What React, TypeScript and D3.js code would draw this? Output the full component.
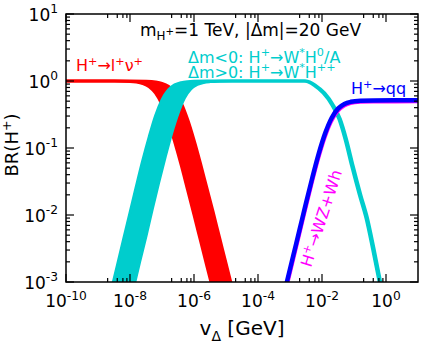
import React, { useEffect, useRef } from 'react';
import * as d3 from 'd3';

type Pt = [number, number]; // [v_Delta in GeV, BR]

// H+ -> l+ nu band, lower and upper edge
const lnuLow: Pt[] = [
  [1e-10, 1.0], [3.2e-9, 0.998], [1e-8, 0.985], [1.58e-8, 0.964], [2.5e-8, 0.917],
  [4.0e-8, 0.822], [6.3e-8, 0.658], [1e-7, 0.445], [1.58e-7, 0.251], [2.5e-7, 0.1225],
  [4.0e-7, 0.055], [6.3e-7, 0.0237], [1e-6, 0.01], [1.58e-6, 0.0042], [2.5e-6, 0.00176],
  [4.0e-6, 0.00073],
];
const lnuHigh: Pt[] = [
  [1e-10, 1.0], [1e-8, 1.0], [3.2e-8, 0.99], [6.3e-8, 0.967], [1e-7, 0.924],
  [1.58e-7, 0.835], [2.5e-7, 0.678], [4.0e-7, 0.467], [6.3e-7, 0.268], [1e-6, 0.132],
  [1.58e-6, 0.0598], [2.5e-6, 0.0258], [4.0e-6, 0.0109], [6.3e-6, 0.00458], [1e-5, 0.00192],
  [1.58e-5, 0.0008],
];

// H+ -> W* H0/A (dm<0) and W* H++ (dm>0) band
const wstarHigh: Pt[] = [
  [2.5e-9, 0.00069], [4.0e-9, 0.00174], [6.3e-9, 0.00435], [1e-8, 0.0108], [1.58e-8, 0.0268],
  [2.5e-8, 0.0647], [4.0e-8, 0.148], [6.3e-8, 0.304], [1e-7, 0.523], [1.58e-7, 0.734],
  [2.5e-7, 0.874], [4.0e-7, 0.946], [6.3e-7, 0.978], [1e-6, 0.991], [2.5e-6, 0.9985],
  [1e-5, 1.0], [3.16e-3, 1.0], [6.4e-3, 0.86], [1.22e-2, 0.66], [2.26e-2, 0.44],
  [3.76e-2, 0.27], [5.96e-2, 0.131], [9.44e-2, 0.054], [0.164, 0.02], [0.266, 0.0089],
  [0.422, 0.00318], [0.684, 0.001],
];
const wstarLow: Pt[] = [
  [1e-8, 0.0005], [1.26e-8, 0.00079], [2.0e-8, 0.00199], [3.2e-8, 0.00498], [5.0e-8, 0.0124],
  [7.9e-8, 0.0307], [1.26e-7, 0.0736], [2.0e-7, 0.166], [3.2e-7, 0.334], [5.0e-7, 0.557],
  [7.9e-7, 0.76], [1.26e-6, 0.888], [2.0e-6, 0.952], [3.2e-6, 0.98], [6.3e-6, 0.995],
  [1.58e-5, 0.9994], [2.75e-3, 1.0], [5.7e-3, 0.86], [1.08e-2, 0.66], [2.02e-2, 0.44],
  [3.35e-2, 0.27], [5.3e-2, 0.131], [8.4e-2, 0.054], [0.146, 0.02], [0.237, 0.0089],
  [0.376, 0.00318], [0.61, 0.001],
];

// H+ -> qq and H+ -> WZ + Wh
const qq: Pt[] = [
  [7.9e-4, 0.00098], [1.26e-3, 0.00246], [2.0e-3, 0.0061], [3.16e-3, 0.0151], [5.0e-3, 0.0363],
  [7.9e-3, 0.0824], [1.26e-2, 0.1667], [2.0e-2, 0.281], [3.16e-2, 0.387], [5.0e-2, 0.455],
  [7.9e-2, 0.489], [0.158, 0.508], [0.4, 0.513], [10, 0.515],
];
const wzwh: Pt[] = [
  [7.9e-4, 0.00076], [1.26e-3, 0.0019], [2.0e-3, 0.00475], [3.16e-3, 0.01175], [5.0e-3, 0.0285],
  [7.9e-3, 0.0655], [1.26e-2, 0.1367], [2.0e-2, 0.24], [3.16e-2, 0.343], [5.0e-2, 0.414],
  [7.9e-2, 0.4515], [0.158, 0.4725], [0.4, 0.479], [10, 0.48],
];

// ticks
const xMajorExp = [-10, -8, -6, -4, -2, 0];
const xMinorExp = [-9, -7, -5, -3, -1];
const xMinorMult = [2, 4, 6, 8];
const yMajorExp = [1, 0, -1, -2, -3];
const yMinorMult = [2, 3, 4, 5, 6, 7, 8, 9];

const W = 429;
const H = 345;
const margin = { top: 14, right: 11, bottom: 63, left: 66 };
const FONT = 'DejaVu Sans';

// text, size factor, baseline shift (in units of base size)
type Part = [string, number, number];
const SUP = -0.38;

function rich(sel: any, parts: Part[], size: number) {
  let cur = 0;
  parts.forEach(([t, f, s]) => {
    const target = s * size;
    sel.append('tspan').attr('dy', target - cur).attr('font-size', f * size).text(t);
    cur = target;
  });
}

const App = () => {
  const ref = useRef<SVGSVGElement>(null);

  useEffect(() => {
    const svg = d3.select(ref.current);
    svg.selectAll('*').remove();

    const x = d3.scaleLog().domain([1e-10, 10]).range([margin.left, W - margin.right]);
    const y = d3.scaleLog().domain([1e-3, 10]).range([H - margin.bottom, margin.top]);
    const x0 = margin.left, x1 = W - margin.right, y0 = H - margin.bottom, y1 = margin.top;

    svg.append('defs').append('clipPath').attr('id', 'plotclip')
      .append('rect').attr('x', x0).attr('y', y1).attr('width', x1 - x0).attr('height', y0 - y1);

    const line = d3.line<Pt>().x(d => x(d[0])).y(d => y(d[1])).curve(d3.curveMonotoneX);
    const band = (hi: Pt[], lo: Pt[]) =>
      (line(hi) as string) + 'L' + (line(lo.slice().reverse()) as string).slice(1) + 'Z';

    const plot = svg.append('g').attr('clip-path', 'url(#plotclip)');

    const drawBand = (hi: Pt[], lo: Pt[], color: string, sw: number) => {
      plot.append('path').attr('d', band(hi, lo)).attr('fill', color).attr('stroke', 'none');
      [hi, lo].forEach(c => {
        plot.append('path').attr('d', line(c)).attr('fill', 'none')
          .attr('stroke', color).attr('stroke-width', sw);
      });
    };

    drawBand(lnuHigh, lnuLow, '#ff0000', 3);
    drawBand(wstarHigh, wstarLow, '#00cdcd', 3);

    plot.append('path').attr('d', line(wzwh)).attr('fill', 'none')
      .attr('stroke', '#ff00ff').attr('stroke-width', 2);
    plot.append('path').attr('d', line(qq)).attr('fill', 'none')
      .attr('stroke', '#0000ff').attr('stroke-width', 4.5);

    // frame
    svg.append('rect').attr('x', x0).attr('y', y1).attr('width', x1 - x0).attr('height', y0 - y1)
      .attr('fill', 'none').attr('stroke', '#000').attr('stroke-width', 1.5);

    const ticks = svg.append('g').attr('stroke', '#000').attr('stroke-width', 1.2);
    const xt = (v: number, len: number) => {
      ticks.append('line').attr('x1', x(v)).attr('x2', x(v)).attr('y1', y0).attr('y2', y0 - len);
      ticks.append('line').attr('x1', x(v)).attr('x2', x(v)).attr('y1', y1).attr('y2', y1 + len);
    };
    const yt = (v: number, len: number) => {
      ticks.append('line').attr('y1', y(v)).attr('y2', y(v)).attr('x1', x0).attr('x2', x0 + len);
      ticks.append('line').attr('y1', y(v)).attr('y2', y(v)).attr('x1', x1).attr('x2', x1 - len);
    };
    xMajorExp.forEach(e => xt(10 ** e, 8));
    xMinorExp.forEach(e => xMinorMult.forEach(m => xt(m * 10 ** e, 4)));
    yMajorExp.forEach(e => yt(10 ** e, 8));
    yMajorExp.slice(1).forEach(e => yMinorMult.forEach(m => yt(m * 10 ** e, 4)));

    const labels = svg.append('g').attr('font-family', FONT).attr('fill', '#000');
    xMajorExp.forEach(e => {
      const t = labels.append('text').attr('x', x(10 ** e)).attr('y', y0 + 25)
        .attr('text-anchor', 'middle').attr('font-size', 17);
      rich(t, [['10', 1, 0], [String(e), 0.72, -0.42]], 17);
    });
    yMajorExp.forEach(e => {
      const t = labels.append('text').attr('x', x0 - 8).attr('y', y(10 ** e) + 6.5)
        .attr('text-anchor', 'end').attr('font-size', 17);
      rich(t, [['10', 1, 0], [String(e), 0.72, -0.42]], 17);
    });

    // axis titles
    const xl = labels.append('text').attr('x', 242).attr('y', 335)
      .attr('text-anchor', 'middle').attr('font-size', 20);
    rich(xl, [['v', 1, 0], ['Δ', 0.7, 0.3], [' [GeV]', 1, 0]], 20);
    const yl = labels.append('text').attr('transform', 'translate(18,145) rotate(-90)')
      .attr('text-anchor', 'middle').attr('font-size', 18);
    rich(yl, [['BR(H', 1, 0], ['+', 0.7, SUP], [')', 1, 0]], 18);

    // title
    const tt = labels.append('text').attr('x', 140).attr('y', 36).attr('font-size', 17);
    rich(tt, [['m', 1, 0], ['H', 0.7, 0.24], ['+', 0.6, -0.05], ['=1 TeV, |Δm|=20 GeV', 1, 0]], 17);

    const ann = svg.append('g').attr('font-family', FONT).attr('font-size', 16);
    const red = ann.append('text').attr('x', 76).attr('y', 71).attr('fill', '#ff0000');
    rich(red, [['H', 1, 0], ['+', 0.7, SUP], ['→l', 1, 0], ['+', 0.7, SUP], ['ν', 1, 0], ['+', 0.7, SUP]], 16);

    const c1 = ann.append('text').attr('x', 188).attr('y', 62.5).attr('fill', '#00cdcd');
    rich(c1, [['Δm<0: H', 1, 0], ['+', 0.7, SUP], ['→W', 1, 0], ['*', 0.7, SUP], ['H', 1, 0], ['0', 0.7, SUP], ['/A', 1, 0]], 16);
    const c2 = ann.append('text').attr('x', 188).attr('y', 77.5).attr('fill', '#00cdcd');
    rich(c2, [['Δm>0: H', 1, 0], ['+', 0.7, SUP], ['→W', 1, 0], ['*', 0.7, SUP], ['H', 1, 0], ['++', 0.7, SUP]], 16);

    const b = ann.append('text').attr('x', 351).attr('y', 94).attr('fill', '#0000ff');
    rich(b, [['H', 1, 0], ['+', 0.7, SUP], ['→qq', 1, 0]], 16);

    const mg = ann.append('text').attr('transform', 'translate(311,268) rotate(-72)').attr('fill', '#ff00ff');
    rich(mg, [['H', 1, 0], ['+', 0.7, SUP], ['→WZ+Wh', 1, 0]], 16);
  }, []);

  return <svg ref={ref} width={W} height={H} style={{ position: 'absolute', left: 0, top: 0 }} />;
};

export default App;
